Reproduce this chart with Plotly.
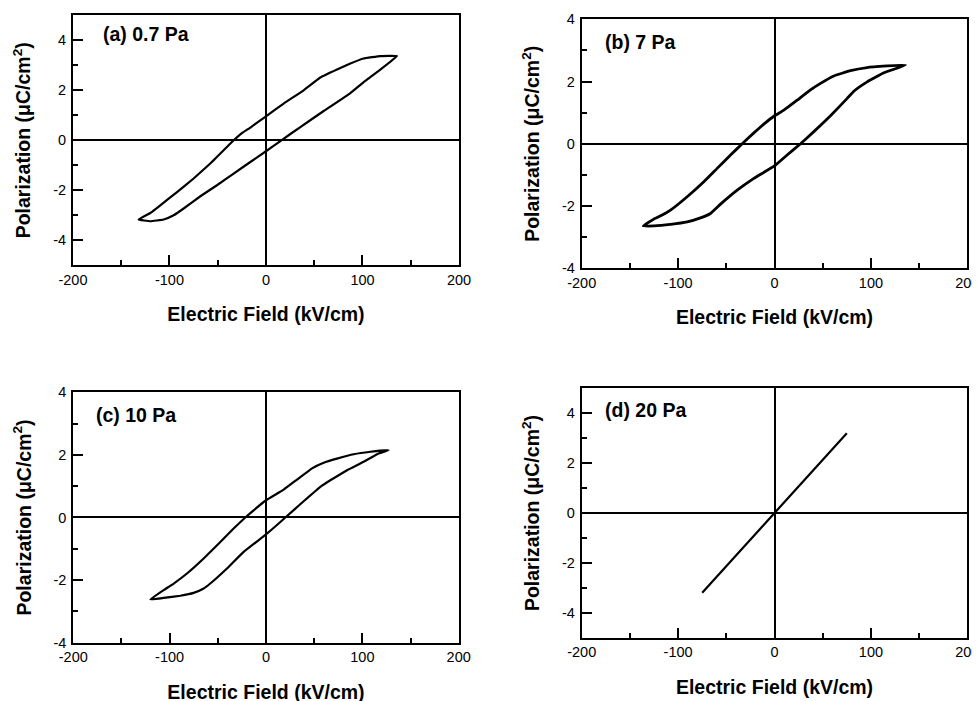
import plotly.graph_objects as go

# ---------------- data ----------------
# (a) 0.7 Pa : loop starts at the positive tip, runs along the upper branch to the negative tip, then back
a_E = [135.8, 118.5, 101.2, 87.4, 73.6, 56.3, 39.0, 18.3, 0.0, -16.2, -26.6, -33.5, -43.9, -57.7, -75.0, -92.2,
       -109.5, -119.9, -132.0,
       -119.9, -106.0, -95.7, -85.3, -68.0, -50.8, -33.5, -16.2, 0.0, 14.9, 35.6, 59.8, 87.4, 101.2, 118.5, 135.8]
a_P = [3.37, 3.37, 3.27, 3.07, 2.83, 2.51, 2.00, 1.47, 0.96, 0.51, 0.24, 0.0, -0.40, -0.93, -1.53, -2.07,
       -2.60, -2.91, -3.17,
       -3.24, -3.17, -3.00, -2.73, -2.24, -1.80, -1.33, -0.87, -0.44, -0.03, 0.53, 1.17, 1.89, 2.33, 2.83, 3.37]

# (b) 7 Pa
b_E = [135.9, 116.9, 96.1, 78.8, 61.5, 47.7, 37.3, 23.5, 9.7, 0.0, -11.1, -21.4, -33.5, -45.6, -59.5, -73.3,
       -90.6, -107.9, -116.5, -125.2, -136.2,
       -125.2, -107.9, -90.6, -76.8, -66.4, -56.0, -38.7, -21.4, 0.0, 13.1, 27.0, 40.8, 58.1, 75.4, 82.3,
       96.1, 113.4, 135.9]
b_P = [2.53, 2.50, 2.45, 2.35, 2.18, 1.94, 1.73, 1.40, 1.08, 0.90, 0.63, 0.35, 0.0, -0.36, -0.79, -1.22,
       -1.70, -2.13, -2.29, -2.42, -2.64,
       -2.64, -2.59, -2.51, -2.38, -2.24, -1.94, -1.49, -1.11, -0.71, -0.36, 0.0, 0.39, 0.90, 1.46, 1.69,
       1.99, 2.28, 2.53]

# (c) 10 Pa
c_E = [127.3, 108.3, 91.0, 73.7, 59.9, 47.8, 32.2, 18.3, 0.0, -12.8, -21.5, -33.6, -47.4, -64.7, -82.0, -95.8,
       -106.2, -120.1,
       -106.2, -88.9, -75.1, -64.7, -57.8, -40.5, -23.2, 0.0, 11.4, 20.1, 39.1, 56.4, 66.8, 84.1, 101.4,
       115.2, 127.3]
c_P = [2.15, 2.10, 2.02, 1.88, 1.75, 1.57, 1.21, 0.89, 0.55, 0.23, 0.0, -0.35, -0.78, -1.31, -1.79, -2.11,
       -2.32, -2.62,
       -2.57, -2.50, -2.41, -2.27, -2.11, -1.63, -1.10, -0.54, -0.24, 0.0, 0.52, 0.98, 1.19, 1.51, 1.78,
       2.02, 2.15]

# (d) 20 Pa : linear response
d_E = [-75.0, 0.0, 75.0]
d_P = [-3.2, 0.0, 3.2]

panel_labels = ["(a) 0.7 Pa", "(b) 7 Pa", "(c) 10 Pa", "(d) 20 Pa"]
y_ranges = [[-5, 5], [-4, 4], [-4, 4], [-5, 5]]
y_major = [[-4, -2, 0, 2, 4]] * 4
y_minor = [[-5, -3, -1, 1, 3, 5], [-3, -1, 1, 3], [-3, -1, 1, 3], [-5, -3, -1, 1, 3, 5]]
x_major = [-200, -100, 0, 100, 200]
x_minor = [-150, -50, 50, 150]
x_title = "Electric Field (kV/cm)"
y_title = "Polarization (\u03bcC/cm<sup>2</sup>)"


def tick_text(vals):
    # plain hyphen-minus, as in the reference
    return [str(v) for v in vals]


# ---------------- figure ----------------
FONT = "Liberation Sans, Arial, Helvetica, sans-serif"
series = [(a_E, a_P, 2.2), (b_E, b_P, 2.8), (c_E, c_P, 2.2), (d_E, d_P, 2.2)]

# panel domains (paper fractions), order a, b, c, d
x_domains = [[0.0663, 0.4602], [0.5854, 0.9789], [0.0666, 0.4599], [0.5854, 0.9789]]
y_domains = [[0.6330, 0.9896], [0.6287, 0.9839], [0.0946, 0.4518], [0.1017, 0.4575]]
label_pos = [(-171, 4.25), (-178, 3.27), (-178, 3.28), (-178, 4.13)]

fig = go.Figure()
layout = dict(
    width=980, height=701,
    margin=dict(l=0, r=0, t=0, b=0),
    paper_bgcolor="white", plot_bgcolor="white",
    showlegend=False,
    font=dict(family=FONT, color="black"),
    annotations=[],
)

for i, (E, P, lw) in enumerate(series):
    n = "" if i == 0 else str(i + 1)
    fig.add_trace(go.Scatter(x=E, y=P, mode="lines",
                             line=dict(color="black", width=lw, shape="spline", smoothing=0.25),
                             xaxis="x" + n, yaxis="y" + n, hoverinfo="skip"))
    common = dict(showline=True, linecolor="black", linewidth=2, mirror=True,
                  showgrid=False, zeroline=True, zerolinecolor="black", zerolinewidth=1.6,
                  ticks="inside", tickcolor="black", tickwidth=1.5, ticklen=10,
                  tickfont=dict(family=FONT, size=14.5, color="black"),
                  automargin=False)
    layout["xaxis" + n] = dict(
        common, domain=x_domains[i], anchor="y" + n, range=[-200, 200],
        tickmode="array", tickvals=x_major, ticktext=tick_text(x_major),
        minor=dict(ticks="inside", ticklen=5, tickwidth=1.5, tickcolor="black",
                   tickmode="array", tickvals=x_minor),
        title=dict(text="<b>" + x_title + "</b>", font=dict(family=FONT, size=19.5, color="black"), standoff=21),
    )
    layout["yaxis" + n] = dict(
        common, domain=y_domains[i], anchor="x" + n, range=y_ranges[i],
        tickmode="array", tickvals=y_major[i], ticktext=tick_text(y_major[i]),
        ticklabelstandoff=2,
        minor=dict(ticks="inside", ticklen=5, tickwidth=1.5, tickcolor="black",
                   tickmode="array", tickvals=y_minor[i]),
        title=dict(text="<b>" + y_title + "</b>", font=dict(family=FONT, size=19.5, color="black"), standoff=17),
    )
    lx, ly = label_pos[i]
    layout["annotations"].append(dict(
        x=lx, y=ly, xref="x" + n, yref="y" + n, text="<b>" + panel_labels[i] + "</b>",
        showarrow=False, xanchor="left", yanchor="middle",
        font=dict(family=FONT, size=19.5, color="black")))

fig.update_layout(**layout)
fig.write_html("out.html")
